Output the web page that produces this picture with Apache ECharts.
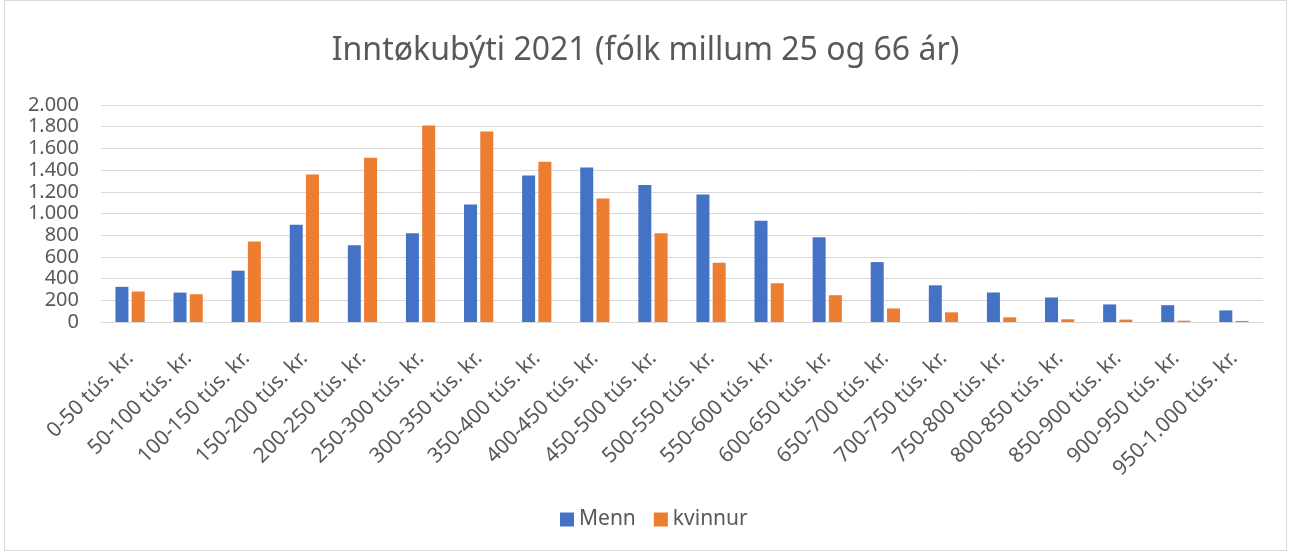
<!DOCTYPE html>
<html>
<head>
<meta charset="utf-8">
<script src="https://cdn.jsdelivr.net/npm/echarts@6/dist/echarts.min.js"></script>
<style>
    html, body { margin: 0; padding: 0; background: #fff; }
    #chart { position: absolute; left: 4px; top: 0; width: 1283px; height: 551px; border: 1px solid #d9d9d9; box-sizing: border-box; }
</style>
</head>
<body>
<div id="chart"></div>
<script>
// flokkar
var categories = ['0-50 tús. kr.', '50-100 tús. kr.', '100-150 tús. kr.', '150-200 tús. kr.', '200-250 tús. kr.',
    '250-300 tús. kr.', '300-350 tús. kr.', '350-400 tús. kr.', '400-450 tús. kr.', '450-500 tús. kr.',
    '500-550 tús. kr.', '550-600 tús. kr.', '600-650 tús. kr.', '650-700 tús. kr.', '700-750 tús. kr.',
    '750-800 tús. kr.', '800-850 tús. kr.', '850-900 tús. kr.', '900-950 tús. kr.', '950-1.000 tús. kr.'];

var menn = [324, 271, 473, 896, 708, 818, 1083, 1351, 1424, 1262, 1174, 933, 781, 552, 338, 272, 226, 162, 155, 107];
var kvinnur = [281, 256, 741, 1360, 1513, 1811, 1756, 1476, 1138, 818, 546, 357, 247, 125, 89, 43, 25, 22, 12, 10];

var yTicks = [0, 200, 400, 600, 800, 1000, 1200, 1400, 1600, 1800, 2000];

var font = 'Noto Sans';

var chart = echarts.init(document.getElementById('chart'));
var option = {
    animation: false,
    title: {
        text: 'Inntøkubýti 2021 (fólk millum 25 og 66 ár)',
        left: 'center',
        top: 29,
        textStyle: { fontFamily: font, fontSize: 32, fontWeight: 'normal', color: '#595959' }
    },
    legend: {
        data: ['Menn', 'kvinnur'],
        bottom: 15,
        left: 550,
        itemWidth: 14,
        itemHeight: 14,
        itemGap: 18,
        icon: 'rect',
        textStyle: { fontFamily: font, fontSize: 21, color: '#595959' }
    },
    grid: { left: 96, right: 23, top: 104, bottom: 228 },
    xAxis: {
        type: 'category',
        data: categories,
        axisLine: { lineStyle: { color: '#d9d9d9', width: 1 } },
        axisTick: { show: false },
        axisLabel: {
            rotate: 45,
            interval: 0,
            margin: 33,
            fontFamily: font,
            fontSize: 21,
            color: '#595959'
        }
    },
    yAxis: {
        type: 'value',
        min: 0,
        max: 2000,
        interval: 200,
        axisLine: { show: false },
        axisTick: { show: false },
        splitLine: { lineStyle: { color: '#d9d9d9', width: 1 } },
        axisLabel: {
            margin: 22,
            fontFamily: font,
            fontSize: 20,
            color: '#595959',
            formatter: function (v) {
                return yTicks.indexOf(v) < 0 ? '' : v.toLocaleString('de-DE');
            }
        }
    },
    series: [
        {
            name: 'Menn',
            type: 'bar',
            data: menn,
            barWidth: 13,
            barGap: '25%',
            itemStyle: { color: '#4472c4' }
        },
        {
            name: 'kvinnur',
            type: 'bar',
            data: kvinnur,
            barWidth: 13,
            itemStyle: { color: '#ed7d31' }
        }
    ]
};
chart.setOption(option);
</script>
</body>
</html>
